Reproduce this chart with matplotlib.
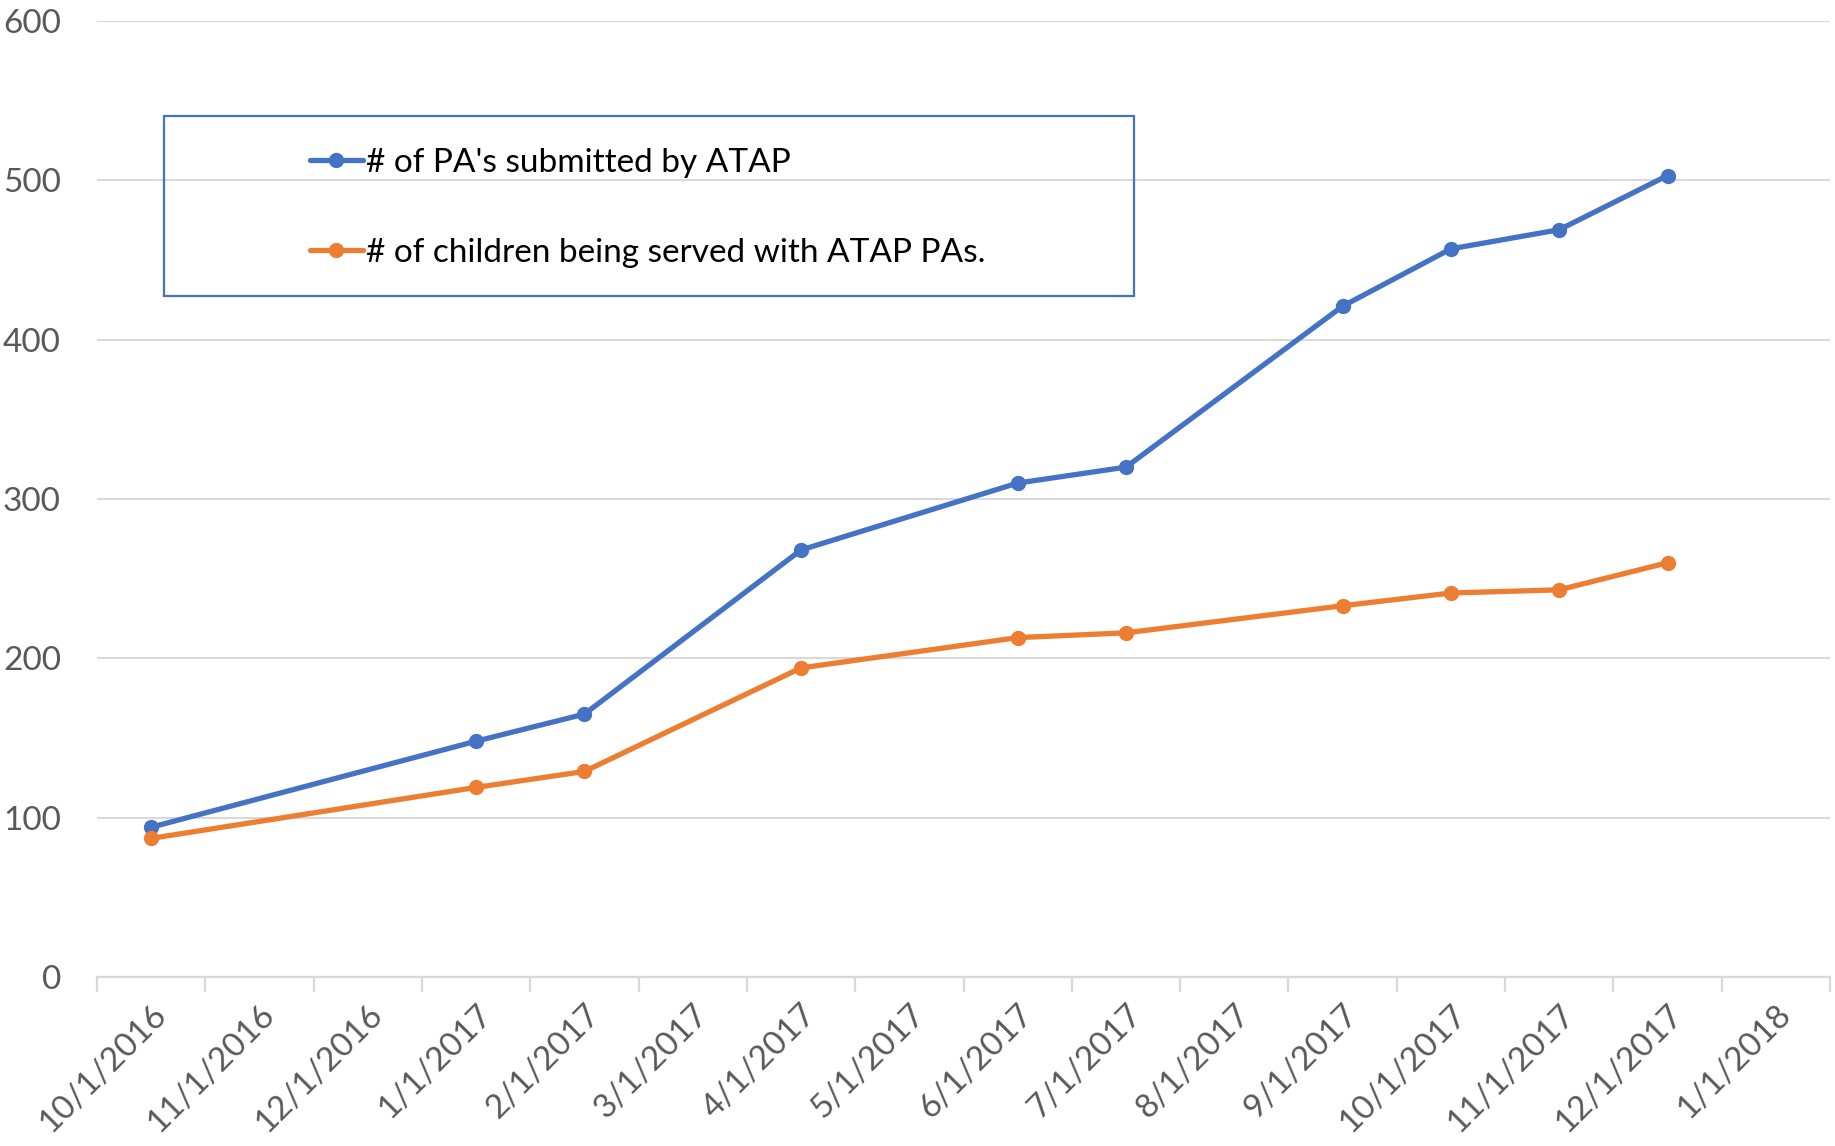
import matplotlib
matplotlib.use("Agg")
import matplotlib.pyplot as plt
from matplotlib.patches import Rectangle

months = ["10/1/2016", "11/1/2016", "12/1/2016", "1/1/2017", "2/1/2017", "3/1/2017",
          "4/1/2017", "5/1/2017", "6/1/2017", "7/1/2017", "8/1/2017", "9/1/2017",
          "10/1/2017", "11/1/2017", "12/1/2017", "1/1/2018"]
obs_dates = ["10/1/2016", "1/1/2017", "2/1/2017", "4/1/2017", "6/1/2017", "7/1/2017",
             "9/1/2017", "10/1/2017", "11/1/2017", "12/1/2017"]
pas_submitted = [94, 148, 165, 268, 310, 320, 421, 457, 469, 503]
children_served = [87, 119, 129, 194, 213, 216, 233, 241, 243, 260]
series_names = ["# of PA's submitted by ATAP", "# of children being served with ATAP PAs."]
yticks = [0, 100, 200, 300, 400, 500, 600]

plt.rcParams['font.family'] = ['Lato', 'DejaVu Sans']

W, H = 1835, 1146
fig = plt.figure(figsize=(W / 100, H / 100), dpi=100)
left, right, top, bottom = 97, 1830, 21, 977
ax = fig.add_axes([left / W, 1 - bottom / H, (right - left) / W, (bottom - top) / H])

xs = [months.index(d) + 0.5 for d in obs_dates]
blue = "#4472C4"
orange = "#ED7D31"
l1, = ax.plot(xs, pas_submitted, color=blue, lw=3.8, marker='o', ms=10,
              solid_capstyle='round', solid_joinstyle='round', zorder=3)
l2, = ax.plot(xs, children_served, color=orange, lw=3.8, marker='o', ms=10,
              solid_capstyle='round', solid_joinstyle='round', zorder=3)

ax.set_xlim(0, len(months))
ax.set_ylim(0, 600)
ax.set_yticks(yticks)
ax.yaxis.grid(True, color="#D9D9D9", lw=1.5)
ax.set_axisbelow(True)
for s in ["left", "right", "top"]:
    ax.spines[s].set_visible(False)
ax.spines["bottom"].set_color("#D9D9D9")
ax.spines["bottom"].set_linewidth(1.6)

ax.tick_params(axis='y', length=0, pad=26, labelsize=24, labelcolor="#595959")
ax.set_xticks(range(len(months) + 1))
ax.set_xticklabels([])
ax.tick_params(axis='x', which='major', length=11, width=1.6, color="#D9D9D9")
ax.set_xticks([i + 0.5 for i in range(len(months))], minor=True)
ax.set_xticklabels(months, minor=True, rotation=45, ha='right', va='top',
                   rotation_mode='anchor', fontsize=24, color="#595959")
ax.tick_params(axis='x', which='minor', length=0, pad=16)

# legend box
fig.patches.append(Rectangle((164 / W, 1 - 296 / H), (1134 - 164) / W, (296 - 116) / H,
                             transform=fig.transFigure, fill=False, edgecolor=blue, lw=1.6))
leg = fig.legend([l1, l2], series_names, loc='upper left',
                 bbox_to_anchor=(293 / W, 1 - 131 / H), frameon=False,
                 fontsize=24, handlelength=1.6, handletextpad=0.1,
                 labelspacing=1.8, borderpad=0, labelcolor='black')

fig.savefig("out.png", dpi=100, facecolor='white')
